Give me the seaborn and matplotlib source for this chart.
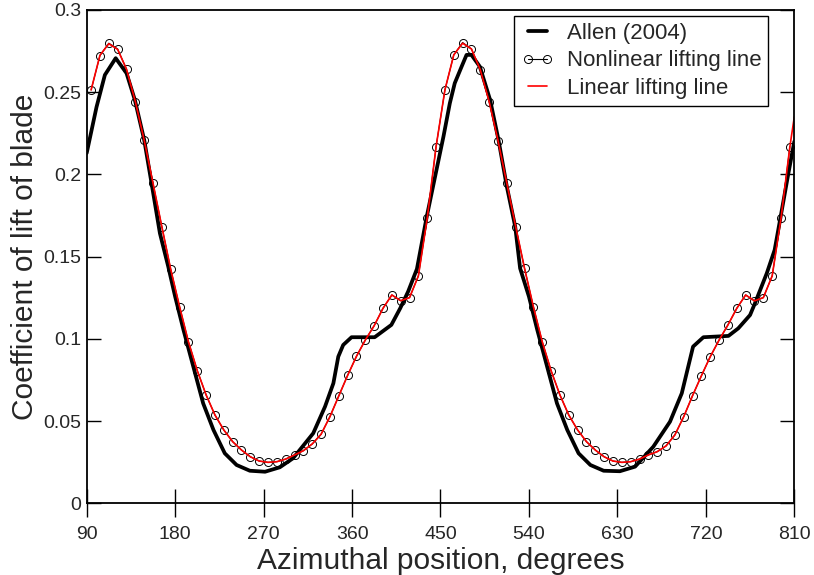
import matplotlib
matplotlib.use("Agg")
import matplotlib.pyplot as plt
import seaborn as sns
import numpy as np
import pandas as pd

# ---------------- data ----------------
allen_x = [90, 100, 108.5, 119.5, 130.5, 139, 148.5, 156, 164.5, 173, 180, 188.5,
           198.5, 208.5, 219, 230.5, 242.5, 256, 271.5, 286.5, 300, 320.5, 332.5,
           341, 346, 351, 359.5, 383, 400, 409, 417, 426, 436, 444.5, 453, 459.5,
           464.5, 471.5, 476.5, 481.5, 490, 500.5, 509, 517.5, 526, 531, 540,
           548.5, 558.5, 568.5, 579, 590.5, 602.5, 616, 632.5, 648, 666.5, 683.5,
           695.5, 707, 717.5, 743, 753, 765, 770, 782, 790, 795.5, 804, 810]
allen_y = [0.213, 0.241, 0.2605, 0.2707, 0.2616, 0.2453, 0.2210, 0.1946, 0.1642,
           0.1439, 0.1257, 0.1054, 0.0831, 0.0608, 0.0446, 0.0304, 0.0233, 0.0198,
           0.0192, 0.0219, 0.0274, 0.0426, 0.0588, 0.0730, 0.0892, 0.0963, 0.1010,
           0.1010, 0.1085, 0.1186, 0.1287, 0.1425, 0.1743, 0.1987, 0.2230, 0.2433,
           0.2555, 0.2656, 0.2727, 0.2727, 0.2656, 0.2453, 0.2210, 0.1926, 0.1683,
           0.1429, 0.1257, 0.1054, 0.0831, 0.0608, 0.0446, 0.0304, 0.0233, 0.0198,
           0.0195, 0.0223, 0.0344, 0.0496, 0.0669, 0.0953, 0.1010, 0.1018, 0.1064,
           0.1145, 0.1217, 0.1399, 0.1541, 0.1723, 0.2007, 0.2200]

nonlin_x = [94.5, 103.5, 112.5, 121.5, 130.5, 139.5, 148.5, 157.5, 166.5, 175.5,
            184.5, 193.5, 202.5, 211.5, 220.5, 229.5, 238.5, 247.5, 256.5, 265.5,
            274.5, 283.5, 292.5, 301.5, 310.5, 319.5, 328.5, 337.5, 346.5, 355.5,
            364.5, 373.5, 382.5, 391.5, 400.5, 409.5, 418.5, 427.5, 436.5, 445.5,
            454.5, 463.5, 472.5, 481.5, 490.5, 499.5, 508.5, 517.5, 526.5, 535.5,
            544.5, 553.5, 562.5, 571.5, 580.5, 589.5, 598.5, 607.5, 616.5, 625.5,
            634.5, 643.5, 652.5, 661.5, 670.5, 679.5, 688.5, 697.5, 706.5, 715.5,
            724.5, 733.5, 742.5, 751.5, 760.5, 769.5, 778.5, 787.5, 796.5, 805.5]
nonlin_y = [0.2514, 0.2723, 0.2798, 0.2763, 0.2640, 0.2443, 0.2208, 0.1946, 0.1681, 0.1423,
            0.1196, 0.0983, 0.0807, 0.0659, 0.0537, 0.0446, 0.0375, 0.0324, 0.0283, 0.0257,
            0.0249, 0.0253, 0.0269, 0.0294, 0.0320, 0.0361, 0.0420, 0.0527, 0.0653, 0.0778,
            0.0894, 0.0993, 0.1080, 0.1186, 0.1267, 0.1232, 0.1251, 0.1383, 0.1734, 0.2169,
            0.2514, 0.2727, 0.2802, 0.2763, 0.2636, 0.2443, 0.2206, 0.1946, 0.1683, 0.1429,
            0.1196, 0.0983, 0.0807, 0.0659, 0.0537, 0.0446, 0.0375, 0.0324, 0.0283, 0.0257,
            0.0249, 0.0253, 0.0269, 0.0294, 0.0314, 0.0349, 0.0416, 0.0527, 0.0655, 0.0776,
            0.0892, 0.0993, 0.1085, 0.1186, 0.1267, 0.1231, 0.1251, 0.1383, 0.1734, 0.2169]

lin_x = nonlin_x + [810]
lin_y = [0.2514, 0.2725, 0.2795, 0.2760, 0.2640, 0.2443, 0.2208, 0.1946, 0.1681, 0.1423,
         0.1196, 0.0983, 0.0807, 0.0659, 0.0537, 0.0446, 0.0375, 0.0324, 0.0283, 0.0257,
         0.0249, 0.0253, 0.0269, 0.0294, 0.0320, 0.0361, 0.0420, 0.0527, 0.0653, 0.0778,
         0.0894, 0.0993, 0.1080, 0.1186, 0.1267, 0.1232, 0.1251, 0.1383, 0.1734, 0.2169,
         0.2514, 0.2727, 0.2798, 0.2763, 0.2636, 0.2443, 0.2206, 0.1946, 0.1683, 0.1429,
         0.1196, 0.0983, 0.0807, 0.0659, 0.0537, 0.0446, 0.0375, 0.0324, 0.0283, 0.0257,
         0.0249, 0.0253, 0.0269, 0.0294, 0.0314, 0.0349, 0.0416, 0.0527, 0.0655, 0.0776,
         0.0892, 0.0993, 0.1085, 0.1186, 0.1267, 0.1231, 0.1251, 0.1383, 0.1734, 0.2169,
         0.2350]

x_ticks = [90, 180, 270, 360, 450, 540, 630, 720, 810]
y_ticks = [0, 0.05, 0.1, 0.15, 0.2, 0.25, 0.3]
y_tick_labels = ["0", "0.05", "0.1", "0.15", "0.2", "0.25", "0.3"]

# ---------------- style ----------------
sns.set_style("white")
plt.rcParams["font.family"] = ["Liberation Sans", "DejaVu Sans"]

fig = plt.figure(figsize=(8.14, 5.75), dpi=100)
ax = fig.add_axes([86.7 / 814, 1 - 503.3 / 575, (794.3 - 86.7) / 814, (503.3 - 10) / 575])

df_allen = pd.DataFrame({"x": allen_x, "y": allen_y})
df_non = pd.DataFrame({"x": nonlin_x, "y": nonlin_y})
df_lin = pd.DataFrame({"x": lin_x, "y": lin_y})

sns.lineplot(data=df_allen, x="x", y="y", ax=ax, color="black", linewidth=2.7,
             label="Allen (2004)", sort=False, estimator=None)
sns.lineplot(data=df_non, x="x", y="y", ax=ax, color="black", linewidth=0.8,
             marker="o", markersize=5.8, markerfacecolor="none",
             markeredgecolor="black", markeredgewidth=0.7,
             label="Nonlinear lifting line", sort=False, estimator=None)
sns.lineplot(data=df_lin, x="x", y="y", ax=ax, color="#ff0000", linewidth=1.2,
             label="Linear lifting line", sort=False, estimator=None)

ax.set_xlim(90, 810)
ax.set_ylim(0, 0.3)
ax.set_xticks(x_ticks)
ax.set_xticklabels([str(t) for t in x_ticks])
ax.set_yticks(y_ticks)
ax.set_yticklabels(y_tick_labels)

for sp in ax.spines.values():
    sp.set_color("black")
    sp.set_linewidth(1.3)

ax.tick_params(axis="x", direction="inout", length=20, width=1.0, color="black",
               labelsize=14, pad=6, top=False, bottom=True)
ax.tick_params(axis="y", direction="in", length=10, width=1.0, color="black",
               labelsize=14, pad=4, left=True, right=True)

ax.set_xlabel("Azimuthal position, degrees", fontsize=21.5, labelpad=3)
ax.set_ylabel("Coefficient of lift of blade", fontsize=21.5, labelpad=3)

leg = ax.legend(loc="upper right", bbox_to_anchor=((768 - 86.7) / 707.6, (503.3 - 16) / 493.3),
                borderaxespad=0, fontsize=16, frameon=True, fancybox=False,
                edgecolor="black", framealpha=1, handlelength=1.45, handletextpad=0.6,
                borderpad=0.3, labelspacing=0.3, numpoints=2)
leg.get_frame().set_linewidth(1.0)

fig.savefig("out.png", dpi=100)
